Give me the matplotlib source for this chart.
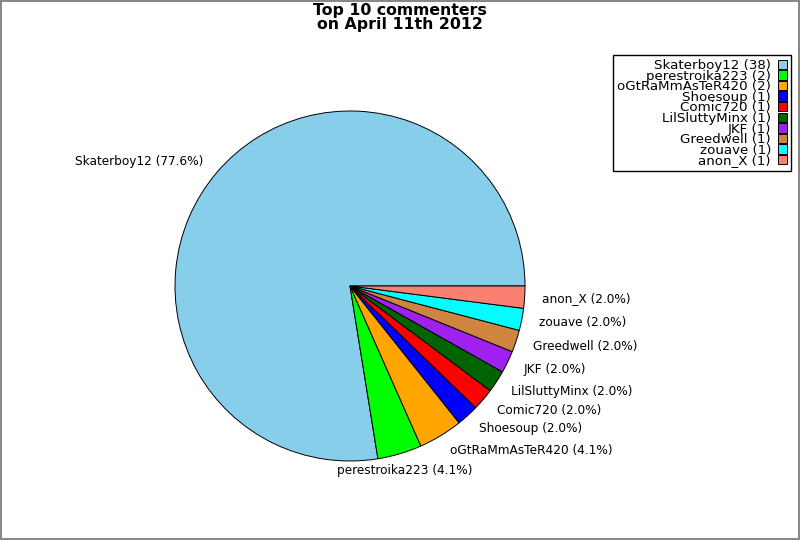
import matplotlib
matplotlib.use("Agg")
import matplotlib.pyplot as plt

# top commenters and their comment counts
names = ["Skaterboy12", "perestroika223", "oGtRaMmAsTeR420", "Shoesoup", "Comic720",
         "LilSluttyMinx", "JKF", "Greedwell", "zouave", "anon_X"]
counts = [38, 2, 2, 1, 1, 1, 1, 1, 1, 1]
colors = ["#87ceeb", "#00ff00", "#ffa500", "#0000ff", "#ff0000",
          "#006400", "#a020f0", "#cd853f", "#00ffff", "#fa8072"]

total = sum(counts)
pie_labels = [f"{n} ({100.0 * c / total:.1f}%)" for n, c in zip(names, counts)]
legend_labels = [f"{n} ({c})" for n, c in zip(names, counts)]

fig = plt.figure(figsize=(8, 5.4), dpi=100)
fig.patch.set_edgecolor("#888888")
fig.patch.set_linewidth(1.5)

ax = fig.add_axes([131.25 / 800, 35.25 / 540, 437.5 / 800, 437.5 / 540])
wedges, texts = ax.pie(counts, labels=pie_labels, colors=colors, startangle=0,
                       labeldistance=1.1,
                       wedgeprops=dict(edgecolor="black", linewidth=0.7),
                       textprops=dict(fontsize=8.7))
texts[1].set_horizontalalignment("center")
ax.set_aspect("equal")

fig.suptitle("Top 10 commenters\non April 11th 2012", fontsize=11.3,
             fontweight="bold", y=0.995, va="top", linespacing=0.9)

leg = fig.legend(wedges, legend_labels, loc="upper right",
                 bbox_to_anchor=(791 / 800, 1 - 55 / 540), borderaxespad=0,
                 markerfirst=False, fontsize=9.6, labelspacing=-0.18,
                 handlelength=0.7, handleheight=0.7, handletextpad=0.5,
                 borderpad=0.3, fancybox=False, framealpha=1)
leg.get_frame().set_edgecolor("black")
for t in leg.get_texts():
    t.set_horizontalalignment("right")

fig.savefig("out.png", dpi=100, edgecolor=fig.get_edgecolor())
